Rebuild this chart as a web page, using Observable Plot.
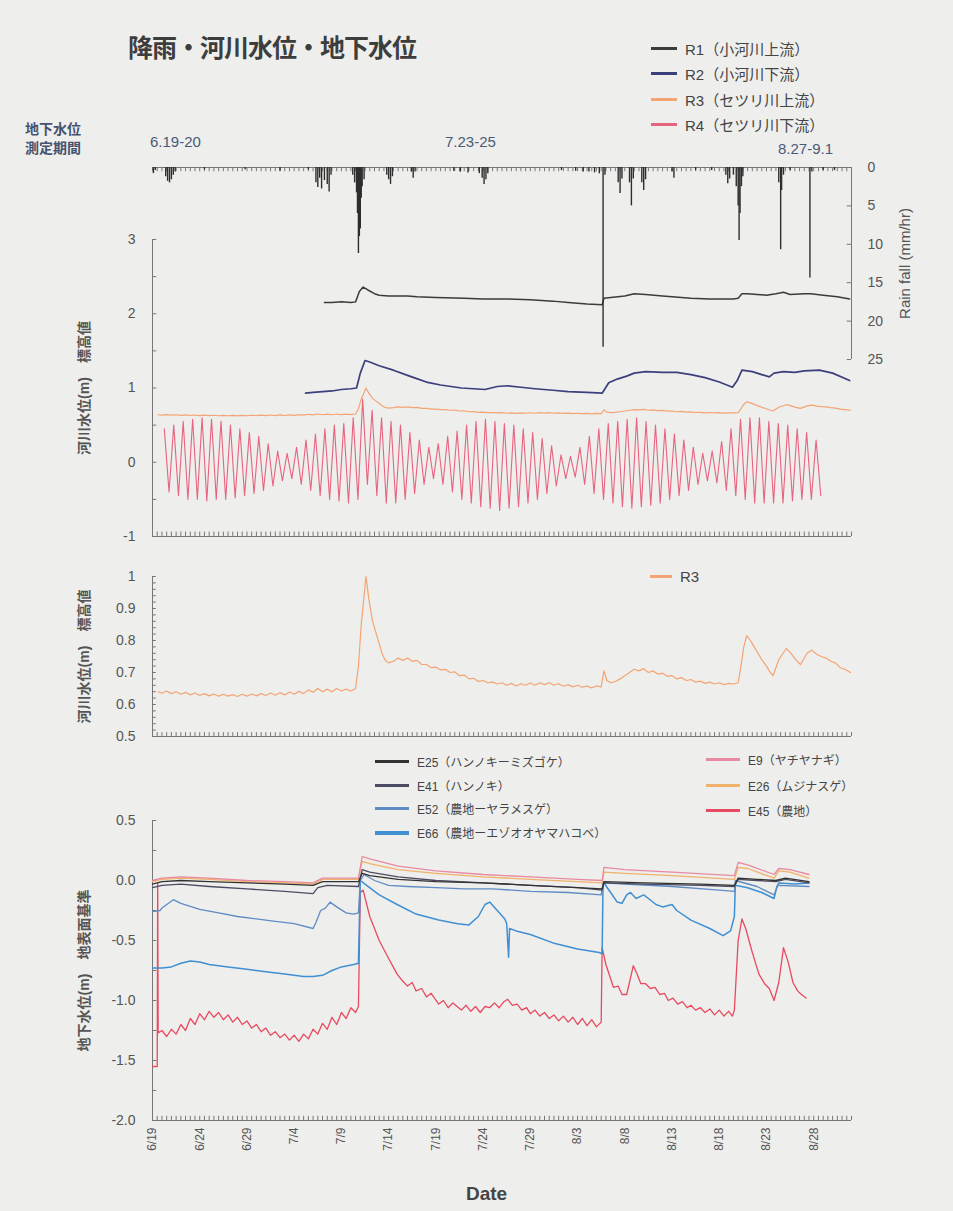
<!DOCTYPE html>
<html><head><meta charset="utf-8">
<script src="https://cdn.jsdelivr.net/npm/d3@7"></script>
<script src="https://cdn.jsdelivr.net/npm/@observablehq/plot@0.6"></script>
<style>
body{margin:0;background:#eeeeec;}
#wrap{position:relative;width:953px;height:1211px;background:#eeeeec;overflow:hidden;font-family:'Liberation Sans','Noto Sans CJK JP',sans-serif;color:#444;}
.t{position:absolute;white-space:nowrap;}
.leg{position:absolute;display:flex;align-items:center;white-space:nowrap;}
.leg span.sw{display:inline-block;height:3px;margin-right:8px;}
</style></head><body><div id="wrap"></div>
<script>
// ---------- data (x in days after 6/19) ----------
const xDomain = [0, 74];
const xTicks = [0,5,10,15,20,25,30,35,40,45,50,55,60,65,70];
const xTickLabels = ["6/19","6/24","6/29","7/4","7/9","7/14","7/19","7/24","7/29","8/3","8/8","8/13","8/18","8/23","8/28"];

const rainTicks = [0,5,10,15,20,25];
const rainTickLabels = ["0","5","10","15","20","25"];
const rain = [[0.1,0.8],[0.3,0.4],[1.4,1.2],[1.6,1.8],[1.8,2.0],[2.0,1.6],[2.2,1.0],[2.4,0.6],
[5.5,0.3],[9.8,0.3],[13.5,0.5],[16.5,0.3],
[17.3,2.0],[17.5,2.6],[17.7,1.4],[17.9,2.8],[18.2,1.7],[18.5,2.2],[18.7,3.2],[18.9,1.0],
[21.2,1.0],[21.4,2.0],[21.6,3.3],[21.7,6.0],[21.8,11.2],[21.9,9.0],[22.0,8.0],[22.1,4.0],[22.2,2.5],[22.4,1.6],
[24.8,1.0],[25.0,1.6],[25.2,2.2],[25.4,1.2],[27.4,0.6],[27.6,1.4],[27.8,0.6],
[31.9,0.5],[32.6,0.6],[33.4,0.7],[34.6,0.8],[34.9,1.4],[35.1,2.2],[35.3,1.6],[35.5,0.8],
[43.3,0.4],[44.8,0.5],[45.6,0.6],[46.2,0.6],[46.8,0.7],[47.3,0.8],[47.7,23.4],[47.9,1.0],
[49.3,2.0],[49.5,3.4],[49.7,1.5],[50.5,2.0],[50.7,5.0],[50.9,1.5],[51.8,2.0],[52.0,3.0],[52.2,1.6],
[55.0,0.6],[55.2,1.4],[57.5,0.4],[59.2,0.4],
[60.7,1.0],[60.9,2.1],[61.1,1.5],[61.5,1.0],[61.8,2.5],[62.0,5.0],[62.1,9.5],[62.2,6.0],[62.35,2.5],[62.5,1.2],
[66.3,2.0],[66.5,10.7],[66.6,3.0],[66.8,1.0],[67.5,0.4],[69.6,14.4],[69.8,0.6],[71,0.4],[72.2,0.4]];

const p1Ticks = [-1,0,1,2,3];
const p1TickLabels = ["-1","0","1","2","3"];
const r1 = [[18.2,2.15],[19,2.15],[20,2.16],[21,2.15],[21.5,2.16],[21.9,2.3],[22.3,2.36],[22.8,2.32],[23.5,2.27],[24,2.25],[25,2.24],[27,2.24],[28,2.23],[30,2.22],[33,2.21],[35,2.2],[37.6,2.2],[40,2.19],[42.4,2.17],[44,2.15],[46,2.13],[47.6,2.12],[47.8,2.21],[48.5,2.22],[50,2.24],[51,2.27],[52.2,2.26],[54,2.24],[57,2.21],[59,2.2],[61.5,2.2],[62,2.21],[62.4,2.27],[63,2.27],[64,2.26],[65,2.25],[66,2.27],[66.8,2.29],[67.5,2.26],[69,2.27],[69.7,2.27],[71,2.25],[72.5,2.23],[73.8,2.2]];
const r2 = [[16.2,0.93],[17,0.94],[18,0.95],[19,0.96],[20,0.98],[21,0.99],[21.6,1.0],[22.0,1.2],[22.5,1.37],[23,1.35],[24,1.3],[25.5,1.24],[27,1.17],[27.9,1.13],[29,1.08],[30.5,1.04],[32.7,1.0],[34,0.99],[35.2,0.98],[36.5,1.02],[37.6,1.03],[39,1.01],[40.5,0.99],[42.4,0.97],[44,0.95],[46,0.94],[47.6,0.93],[48.3,1.07],[49.2,1.12],[50.2,1.16],[51,1.2],[52.2,1.22],[54,1.21],[55.5,1.21],[57,1.18],[58.5,1.14],[60,1.08],[61.4,1.01],[61.9,1.1],[62.4,1.24],[63.5,1.22],[64.5,1.18],[65.3,1.15],[65.8,1.2],[66.8,1.22],[68,1.21],[69,1.23],[70.6,1.24],[72,1.2],[73.8,1.1]];
const r3 = [[0.6,0.640],[1,0.635],[1.5,0.642],[2,0.634],[2.5,0.640],[3,0.632],[3.5,0.638],[4,0.630],[4.5,0.636],[5,0.628],[5.5,0.634],[6,0.627],[6.5,0.633],[7,0.626],[7.5,0.632],[8,0.626],[8.5,0.631],[9,0.625],[9.5,0.632],[10,0.626],[10.5,0.633],[11,0.627],[11.5,0.634],[12,0.628],[12.5,0.636],[13,0.629],[13.5,0.637],[14,0.630],[14.5,0.639],[15,0.632],[15.5,0.641],[16,0.634],[16.5,0.646],[17,0.638],[17.5,0.650],[18,0.640],[18.5,0.648],[19,0.640],[19.5,0.650],[20,0.642],[20.5,0.648],[21,0.642],[21.5,0.650],[21.8,0.72],[22.1,0.85],[22.6,1.0],[22.9,0.93],[23.3,0.86],[23.7,0.82],[24.0,0.79],[24.3,0.76],[24.6,0.74],[25,0.73],[25.5,0.735],[26,0.745],[26.5,0.738],[27,0.745],[27.5,0.735],[28,0.738],[28.5,0.725],[29,0.725],[29.5,0.715],[30,0.717],[30.5,0.708],[31,0.71],[31.5,0.70],[32,0.702],[32.5,0.69],[33,0.692],[33.5,0.68],[34,0.682],[34.5,0.672],[35,0.675],[35.5,0.668],[36,0.670],[36.5,0.664],[37,0.668],[37.5,0.66],[38,0.666],[38.5,0.658],[39,0.665],[39.5,0.660],[40,0.667],[40.5,0.660],[41,0.668],[41.5,0.662],[42,0.668],[42.5,0.66],[43,0.665],[43.5,0.657],[44,0.662],[44.5,0.655],[45,0.66],[45.5,0.654],[46,0.658],[46.5,0.652],[47,0.658],[47.5,0.655],[47.8,0.705],[48.1,0.675],[48.5,0.668],[49,0.672],[49.5,0.68],[50,0.69],[50.5,0.70],[51,0.71],[51.5,0.705],[52,0.712],[52.5,0.70],[53,0.705],[53.5,0.695],[54,0.698],[54.5,0.688],[55,0.69],[55.5,0.68],[56,0.684],[56.5,0.675],[57,0.678],[57.5,0.67],[58,0.673],[58.5,0.666],[59,0.67],[59.5,0.664],[60,0.668],[60.5,0.662],[61,0.666],[61.5,0.664],[62,0.668],[62.3,0.72],[62.6,0.78],[62.9,0.815],[63.3,0.80],[63.7,0.78],[64.1,0.76],[64.5,0.74],[65,0.72],[65.4,0.70],[65.7,0.69],[66.3,0.74],[67.1,0.775],[67.6,0.76],[68.1,0.74],[68.6,0.725],[69.3,0.76],[69.8,0.77],[70.3,0.757],[70.8,0.75],[71.3,0.745],[71.8,0.735],[72.3,0.73],[72.8,0.715],[73.3,0.71],[73.9,0.70]];
const r4StartDay = 1;
const r4High = [0.45,0.5,0.55,0.58,0.6,0.58,0.55,0.5,0.45,0.4,0.35,0.25,0.15,0.12,0.2,0.3,0.38,0.45,0.5,0.52,0.6,0.85,0.7,0.6,0.55,0.5,0.4,0.3,0.2,0.25,0.35,0.42,0.5,0.55,0.58,0.55,0.52,0.5,0.45,0.4,0.32,0.22,0.1,0.08,0.2,0.35,0.45,0.52,0.55,0.58,0.6,0.55,0.5,0.45,0.38,0.3,0.2,0.12,0.15,0.28,0.45,0.58,0.6,0.6,0.55,0.52,0.5,0.45,0.4,0.3];
const r4Low = [-0.4,-0.45,-0.5,-0.5,-0.52,-0.5,-0.5,-0.48,-0.45,-0.42,-0.38,-0.32,-0.25,-0.22,-0.3,-0.38,-0.45,-0.5,-0.52,-0.55,-0.5,-0.3,-0.45,-0.55,-0.55,-0.5,-0.42,-0.3,-0.22,-0.3,-0.4,-0.5,-0.55,-0.6,-0.62,-0.65,-0.62,-0.6,-0.55,-0.5,-0.42,-0.32,-0.22,-0.2,-0.3,-0.42,-0.5,-0.55,-0.6,-0.62,-0.6,-0.58,-0.55,-0.5,-0.45,-0.38,-0.3,-0.25,-0.28,-0.38,-0.45,-0.5,-0.55,-0.55,-0.55,-0.55,-0.52,-0.5,-0.5,-0.45];

const p2Ticks = [0.5,0.6,0.7,0.8,0.9,1];
const p2TickLabels = ["0.5","0.6","0.7","0.8","0.9","1"];

const p3Ticks = [0.5,0,-0.5,-1,-1.5,-2];
const p3TickLabels = ["0.5","0.0","-0.5","-1.0","-1.5","-2.0"];
const e25 = [[0,-0.03],[1,-0.01],[3,0.0],[6,-0.01],[10,-0.02],[14,-0.03],[17,-0.04],[18,-0.01],[21.8,-0.01],[22.2,0.06],[23,0.04],[26,0.01],[30,-0.01],[35,-0.02],[40,-0.04],[45,-0.06],[47.6,-0.07],[47.8,-0.01],[52,-0.02],[58,-0.03],[61.6,-0.04],[62,0.02],[64,0.01],[66,0.0],[67,0.02],[69.5,-0.01]];
const e41 = [[0,-0.06],[1,-0.04],[3,-0.03],[6,-0.05],[10,-0.07],[14,-0.09],[17,-0.11],[17.5,-0.06],[18.5,-0.04],[21.8,-0.05],[22.2,0.09],[23,0.07],[26,0.03],[30,0.0],[35,-0.02],[40,-0.04],[45,-0.06],[47.6,-0.08],[47.8,-0.02],[52,-0.03],[58,-0.04],[61.6,-0.05],[62,0.01],[64,0.0],[66,-0.01],[67,0.01],[69.5,-0.02]];
const e52 = [[0,-0.26],[0.8,-0.25],[1,-0.23],[2.2,-0.16],[3,-0.19],[5,-0.24],[7,-0.27],[9,-0.3],[11,-0.32],[13,-0.34],[15,-0.36],[17,-0.4],[17.3,-0.35],[17.8,-0.25],[18.3,-0.23],[18.8,-0.18],[19.5,-0.22],[20.5,-0.27],[21.3,-0.28],[21.8,-0.27],[22.0,0.0],[22.4,0.05],[23.5,0.0],[25,-0.04],[27,-0.05],[30,-0.06],[33,-0.07],[36,-0.07],[40,-0.09],[44,-0.1],[47.5,-0.12],[47.7,-0.02],[50,-0.03],[55,-0.05],[60,-0.08],[61.6,-0.09],[61.7,0.0],[64,-0.05],[65.8,-0.12],[66.2,-0.04],[69.5,-0.05]];
const e66 = [[0,-0.73],[1,-0.73],[2,-0.72],[3,-0.69],[4,-0.67],[5,-0.68],[6,-0.7],[8,-0.72],[10,-0.74],[12,-0.76],[14,-0.78],[16,-0.8],[17,-0.8],[18,-0.79],[19,-0.75],[20,-0.72],[21.3,-0.7],[21.8,-0.69],[22.0,0.0],[22.5,-0.03],[24,-0.12],[25.9,-0.2],[27.9,-0.28],[30.3,-0.33],[32.3,-0.36],[33.5,-0.37],[34.5,-0.3],[35.2,-0.2],[35.7,-0.18],[36.5,-0.25],[37.3,-0.32],[37.5,-0.36],[37.7,-0.64],[37.8,-0.4],[38.5,-0.42],[40,-0.45],[42.4,-0.52],[45,-0.57],[47.3,-0.6],[47.6,-0.61],[47.7,-0.01],[48.5,-0.1],[49.2,-0.18],[49.7,-0.19],[50.2,-0.12],[50.6,-0.1],[51.2,-0.15],[52.0,-0.12],[52.5,-0.15],[53.3,-0.2],[54,-0.22],[55,-0.2],[55.5,-0.25],[57,-0.33],[59,-0.4],[60.4,-0.46],[61.2,-0.42],[61.6,-0.3],[61.7,-0.04],[63,-0.06],[64.5,-0.1],[65.8,-0.15],[66.1,-0.05],[66.3,-0.02],[68,-0.03],[69.5,-0.02]];
const e9 = [[0,0.0],[1,0.02],[3,0.03],[6,0.02],[10,0.0],[14,-0.01],[17,-0.02],[18,0.02],[21.8,0.02],[22.2,0.2],[23,0.18],[26,0.12],[30,0.08],[35,0.05],[40,0.03],[45,0.01],[47.6,0.0],[47.8,0.11],[50,0.09],[55,0.07],[61.6,0.04],[62,0.15],[63,0.13],[65.8,0.05],[66.3,0.1],[67.5,0.09],[69.5,0.05]];
const e26 = [[0,-0.01],[1,0.01],[3,0.02],[6,0.01],[10,-0.01],[14,-0.02],[17,-0.03],[18,0.01],[21.8,0.01],[22.2,0.16],[23,0.14],[26,0.09],[30,0.06],[35,0.03],[40,0.01],[45,-0.01],[47.6,-0.02],[47.8,0.07],[50,0.06],[55,0.04],[61.6,0.01],[62,0.11],[63,0.1],[65.8,0.02],[66.3,0.08],[67.5,0.07],[69.5,0.02]];
const e45 = [[0,-1.55],[0.5,-1.55],[0.55,-0.02],[0.6,-1.27],[1,-1.25],[1.5,-1.3],[2,-1.24],[2.5,-1.28],[3,-1.2],[3.5,-1.25],[4,-1.15],[4.5,-1.2],[5,-1.11],[5.5,-1.16],[6,-1.09],[6.5,-1.14],[7,-1.1],[7.5,-1.16],[8,-1.12],[8.5,-1.18],[9,-1.14],[9.5,-1.2],[10,-1.17],[10.5,-1.23],[11,-1.2],[11.5,-1.26],[12,-1.23],[12.5,-1.29],[13,-1.26],[13.5,-1.31],[14,-1.28],[14.5,-1.33],[15,-1.29],[15.5,-1.34],[16,-1.28],[16.5,-1.32],[17,-1.24],[17.5,-1.28],[18,-1.19],[18.5,-1.24],[19,-1.14],[19.5,-1.2],[20,-1.1],[20.5,-1.15],[21,-1.06],[21.5,-1.1],[21.8,-1.05],[22.0,-0.1],[22.3,-0.08],[23,-0.3],[24,-0.5],[25,-0.65],[25.9,-0.78],[26.5,-0.84],[27,-0.88],[27.5,-0.85],[27.9,-0.92],[28.5,-0.9],[29,-0.97],[29.5,-0.94],[30.3,-1.03],[30.8,-1.0],[31.3,-1.06],[31.8,-1.02],[32.7,-1.08],[33.2,-1.04],[33.7,-1.09],[34.2,-1.05],[34.7,-1.1],[35.2,-1.05],[35.7,-1.06],[36.2,-1.02],[36.7,-1.06],[37.2,-1.01],[37.6,-0.99],[38.1,-1.04],[38.6,-1.03],[39.1,-1.08],[39.6,-1.06],[40,-1.11],[40.5,-1.08],[41,-1.13],[41.5,-1.1],[42,-1.15],[42.5,-1.12],[43,-1.17],[43.5,-1.13],[44,-1.18],[44.5,-1.14],[45,-1.2],[45.5,-1.15],[46,-1.21],[46.5,-1.16],[47,-1.22],[47.5,-1.18],[47.6,-0.56],[48,-0.7],[48.8,-0.89],[49.3,-0.88],[49.7,-0.95],[50.2,-0.95],[50.9,-0.71],[51.3,-0.78],[51.7,-0.86],[52.2,-0.86],[52.7,-0.9],[53.2,-0.89],[53.7,-0.95],[54.2,-0.94],[54.6,-1.0],[55.1,-0.98],[55.6,-1.03],[56.1,-1.01],[56.6,-1.06],[57,-1.04],[57.5,-1.08],[58,-1.06],[58.5,-1.1],[59,-1.07],[59.5,-1.12],[60,-1.08],[60.5,-1.13],[61,-1.09],[61.4,-1.13],[61.6,-1.08],[62.0,-0.5],[62.4,-0.32],[62.8,-0.4],[63.5,-0.6],[64.2,-0.78],[64.8,-0.86],[65.3,-0.9],[65.8,-1.0],[66.3,-0.85],[66.8,-0.56],[67.3,-0.68],[67.8,-0.85],[68.3,-0.92],[68.7,-0.95],[69.2,-0.98]];

// ---------- legends / labels ----------
const riverNames = ["R1（小河川上流）","R2（小河川下流）","R3（セツリ川上流）","R4（セツリ川下流）"];
const riverColors = ["#3b3b3b","#3c3f7c","#f4a474","#e8637e"];
const gwNames = ["E25（ハンノキーミズゴケ）","E41（ハンノキ）","E52（農地ーヤラメスゲ）","E66（農地ーエゾオオヤマハコベ）","E9（ヤチヤナギ）","E26（ムジナスゲ）","E45（農地）"];
const gwColors = ["#333333","#4b4b63","#5e8cc4","#3f8fd2","#e88aa0","#f0b26a","#e84a5f"];
const periodLabels = ["6.19-20","7.23-25","8.27-9.1"];

// ---------- drawing ----------
const wrap = document.getElementById("wrap");
const AX = "#777";
const FONT = "'Liberation Sans','Noto Sans CJK JP',sans-serif";
const halfDays = d3.range(0, 74.01, 0.5);
const XY = {x: d => d[0], y: d => d[1]};
const r4 = r4High.flatMap((h, i) => [[r4StartDay + i + 0.25, h], [r4StartDay + i + 0.75, r4Low[i]]]);

function put(el, top, left = 0) {
  el.style.position = "absolute"; el.style.top = top + "px"; el.style.left = left + "px";
  wrap.appendChild(el);
}
function text(str, top, left, css) {
  const d = document.createElement("div"); d.className = "t"; d.textContent = str;
  Object.assign(d.style, css || {}); put(d, top, left); return d;
}
function legendItem(label, color, top, left, w, fs, lw) {
  const d = document.createElement("div"); d.className = "leg";
  d.innerHTML = `<span class="sw" style="width:${w}px;background:${color};height:${lw}px"></span><span style="font-size:${fs}px;color:#444">${label}</span>`;
  put(d, top, left);
}
const style = {background: "transparent", fontFamily: FONT, fontSize: "13px", color: "#555", overflow: "visible"};
const fmt = (ticks, labels) => d => labels[ticks.indexOf(d)];
const yLabel = (s) => Plot.text([s], {text: d => d, frameAnchor: "left", dx: -68, rotate: -90, textAnchor: "middle", fontSize: 14, fontWeight: "bold", fill: "#555"});

// panel 1 (river levels)
put(Plot.plot({
  width: 953, height: 335, marginLeft: 152, marginRight: 102, marginTop: 24, marginBottom: 14, style,
  x: {domain: xDomain, axis: null}, y: {domain: [-1, 3], axis: null},
  marks: [
    Plot.ruleX([0], {y1: -1, y2: 3, stroke: AX}),
    Plot.ruleY([-1], {stroke: AX}),
    Plot.ruleX(halfDays, {x: d => d, y1: -1, y2: -0.94, stroke: AX}),
    Plot.ruleY(d3.range(-1, 3.01, 0.5), {y: d => d, x1: 0, x2: 0.45, stroke: AX}),
    Plot.axisY({anchor: "left", ticks: p1Ticks, tickSize: 0, tickPadding: 17, tickFormat: fmt(p1Ticks, p1TickLabels), label: null, fontSize: 14}),
    Plot.line(r4, {...XY, stroke: riverColors[3], strokeWidth: 1.1}),
    Plot.line(r3, {...XY, stroke: riverColors[2], strokeWidth: 1.2}),
    Plot.line(r2, {...XY, stroke: riverColors[1], strokeWidth: 1.7}),
    Plot.line(r1, {...XY, stroke: riverColors[0], strokeWidth: 1.5}),
    yLabel("河川水位(m)　標高値")
  ]
}), 215);

// rain (overlaid, reversed axis on the right)
put(Plot.plot({
  width: 953, height: 240, marginLeft: 152, marginRight: 102, marginTop: 27, marginBottom: 21, style,
  x: {domain: xDomain, axis: null}, y: {domain: [0, 25], reverse: true, axis: null},
  marks: [
    Plot.ruleY([0], {stroke: AX}),
    Plot.ruleX([74], {y1: 0, y2: 25, stroke: AX}),
    Plot.ruleX(halfDays, {x: d => d, y1: 0, y2: 0.55, stroke: AX}),
    Plot.ruleY(rainTicks, {y: d => d, x1: 73.55, x2: 74, stroke: AX}),
    Plot.axisY({anchor: "right", ticks: rainTicks, tickSize: 0, tickPadding: 16, tickFormat: fmt(rainTicks, rainTickLabels), label: null, fontSize: 14}),
    Plot.ruleX(rain, {x: d => d[0], y1: 0, y2: d => d[1], stroke: "#2e2e2e", strokeWidth: 1.4}),
    Plot.text(["Rain fall (mm/hr)"], {text: d => d, frameAnchor: "right", dx: 54, rotate: -90, textAnchor: "middle", fontSize: 15, fill: "#555"})
  ]
}), 140);

// panel 2 (R3 detail)
put(Plot.plot({
  width: 953, height: 195, marginLeft: 152, marginRight: 102, marginTop: 21, marginBottom: 14, style,
  x: {domain: xDomain, axis: null}, y: {domain: [0.5, 1], axis: null},
  marks: [
    Plot.ruleX([0], {y1: 0.5, y2: 1, stroke: AX}),
    Plot.ruleY([0.5], {stroke: AX}),
    Plot.ruleX(halfDays, {x: d => d, y1: 0.5, y2: 0.512, stroke: AX}),
    Plot.ruleY(d3.range(0.5, 1.001, 0.02), {y: d => d, x1: 0, x2: 0.4, stroke: AX}),
    Plot.axisY({anchor: "left", ticks: p2Ticks, tickSize: 0, tickPadding: 17, tickFormat: fmt(p2Ticks, p2TickLabels), label: null, fontSize: 14}),
    Plot.line(r3, {...XY, stroke: riverColors[2], strokeWidth: 1.2}),
    yLabel("河川水位(m)　標高値")
  ]
}), 555);

// panel 3 (groundwater)
const gwSeries = [e25, e41, e52, e66, e9, e26, e45];
const gwOrder = [6, 3, 2, 5, 4, 1, 0];
put(Plot.plot({
  width: 953, height: 395, marginLeft: 152, marginRight: 102, marginTop: 25, marginBottom: 70, style,
  x: {domain: xDomain}, y: {domain: [-2, 0.5], axis: null},
  marks: [
    Plot.ruleX([0], {y1: -2, y2: 0.5, stroke: AX}),
    Plot.ruleY([-2], {stroke: AX}),
    Plot.ruleX(halfDays, {x: d => d, y1: -2, y2: -1.965, stroke: AX}),
    Plot.ruleY(d3.range(-2, 0.501, 0.25), {y: d => d, x1: 0, x2: 0.45, stroke: AX}),
    Plot.axisY({anchor: "left", ticks: p3Ticks, tickSize: 0, tickPadding: 17, tickFormat: fmt(p3Ticks, p3TickLabels), label: null, fontSize: 14}),
    Plot.axisX({anchor: "bottom", ticks: xTicks, tickSize: 0, tickPadding: 7, tickRotate: -90, tickFormat: fmt(xTicks, xTickLabels), label: null, fontSize: 12}),
    ...gwOrder.map(i => Plot.line(gwSeries[i], {...XY, stroke: gwColors[i], strokeWidth: i === 3 ? 1.5 : 1.3})),
    yLabel("地下水位(m)　地表面基準")
  ]
}), 795);

// texts
text("降雨・河川水位・地下水位", 28, 128, {fontSize: "25px", fontWeight: "bold", color: "#3d3d3d", fontFamily: "'Noto Sans CJK JP',sans-serif", letterSpacing: "-1px"});
riverNames.forEach((n, i) => legendItem(n, riverColors[i], [38, 63, 89, 114][i], 651, 26, 15, 3));
text("地下水位", 118, 25, {fontSize: "14px", fontWeight: "bold", color: "#465270"});
text("測定期間", 137, 25, {fontSize: "14px", fontWeight: "bold", color: "#465270"});
text(periodLabels[0], 133, 150, {fontSize: "15px", color: "#4a5a78"});
text(periodLabels[1], 133, 445, {fontSize: "15px", color: "#4a5a78"});
text(periodLabels[2], 140, 778, {fontSize: "15px", color: "#4a5a78"});
legendItem("R3", riverColors[2], 568, 650, 22, 15, 3);
gwNames.forEach((n, i) => {
  const left = i < 4 ? 375 : 706;
  const top = i < 4 ? [753, 777, 800, 824][i] : [751, 777, 802][i - 4];
  legendItem(n, gwColors[i], top, left, 34, 12, i === 3 ? 4 : 3);
});
text("Date", 1183, 466, {fontSize: "19px", fontWeight: "bold", color: "#444"});
</script></body></html>
